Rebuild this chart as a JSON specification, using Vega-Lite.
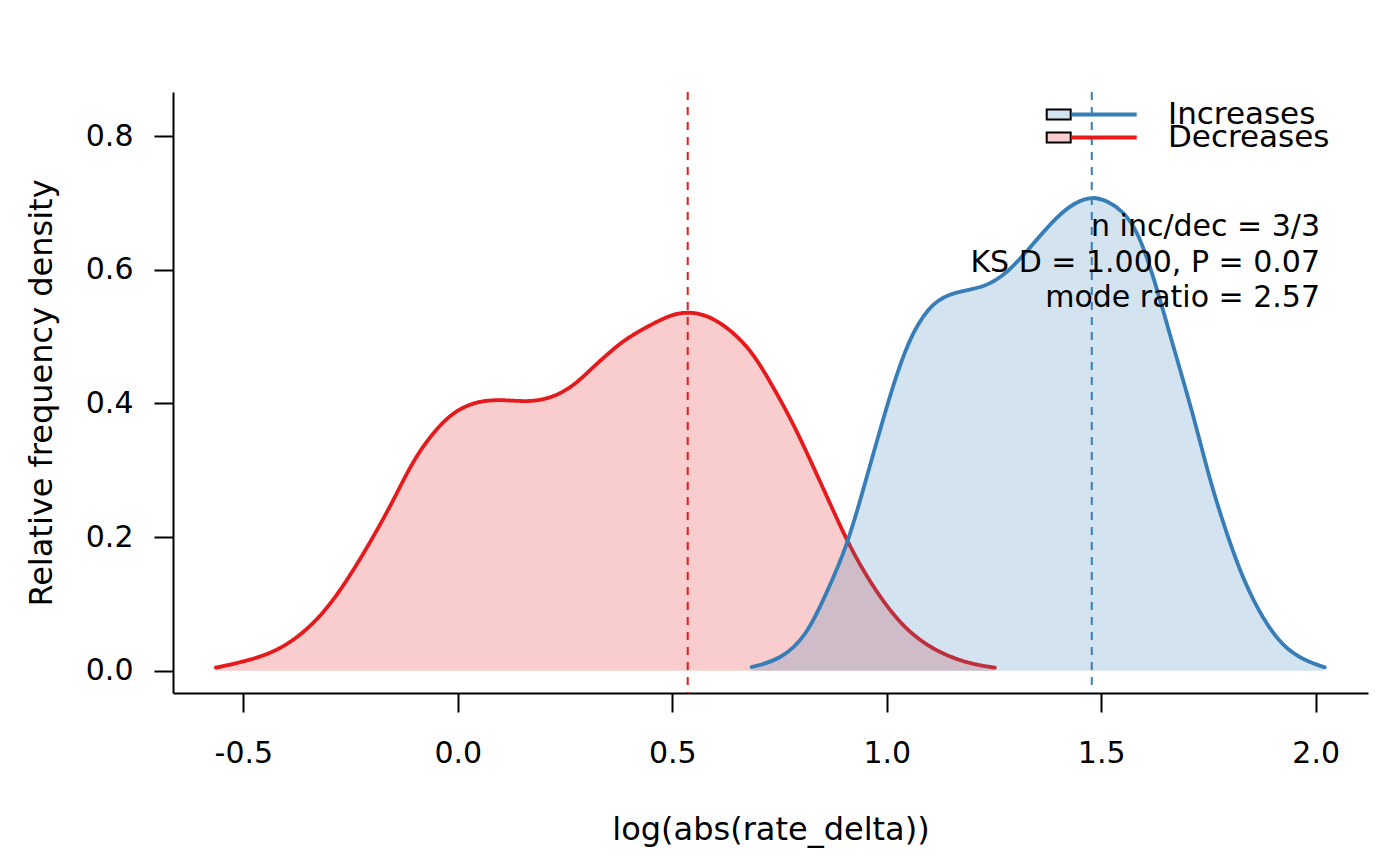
{
  "$schema": "https://vega.github.io/schema/vega-lite/v6.json",
  "width": 1195,
  "height": 601,
  "autosize": {"type": "none"},
  "padding": {"left": 173, "top": 92, "right": 32, "bottom": 173},
  "background": "white",
  "config": {
    "font": "DejaVu Sans",
    "view": {"stroke": null},
    "axis": {
      "grid": false,
      "domainColor": "black",
      "domainWidth": 2,
      "tickColor": "black",
      "tickWidth": 2,
      "tickSize": 19,
      "labelColor": "black",
      "labelFontSize": 30,
      "labelFlush": false,
      "labelOverlap": false,
      "titleFontSize": 32,
      "titleFontWeight": "normal",
      "titleColor": "black"
    },
    "legend": {
      "orient": "none",
      "title": null,
      "padding": 0,
      "offset": 0,
      "rowPadding": 0,
      "labelFontSize": 31,
      "labelColor": "black",
      "labelLimit": 400
    }
  },
  "title": {
    "text": ["n inc/dec = 3/3", "KS D = 1.000, P = 0.07", "mode ratio = 2.57"],
    "orient": "top",
    "anchor": "end",
    "frame": "group",
    "fontSize": 30,
    "fontWeight": "normal",
    "color": "black",
    "lineHeight": 35.5,
    "offset": 0,
    "dx": -48,
    "dy": 222
  },
  "datasets": {
    "density": [
      {"series": "Decreases", "x": -0.564, "y": 0.0045},
      {"series": "Decreases", "x": -0.445, "y": 0.021},
      {"series": "Decreases", "x": -0.368, "y": 0.051},
      {"series": "Decreases", "x": -0.306, "y": 0.091},
      {"series": "Decreases", "x": -0.252, "y": 0.141},
      {"series": "Decreases", "x": -0.197, "y": 0.200},
      {"series": "Decreases", "x": -0.150, "y": 0.255},
      {"series": "Decreases", "x": -0.104, "y": 0.315},
      {"series": "Decreases", "x": -0.057, "y": 0.357},
      {"series": "Decreases", "x": -0.010, "y": 0.388},
      {"series": "Decreases", "x": 0.044, "y": 0.403},
      {"series": "Decreases", "x": 0.098, "y": 0.406},
      {"series": "Decreases", "x": 0.161, "y": 0.402},
      {"series": "Decreases", "x": 0.215, "y": 0.407},
      {"series": "Decreases", "x": 0.269, "y": 0.425},
      {"series": "Decreases", "x": 0.316, "y": 0.455},
      {"series": "Decreases", "x": 0.378, "y": 0.490},
      {"series": "Decreases", "x": 0.409, "y": 0.503},
      {"series": "Decreases", "x": 0.487, "y": 0.531},
      {"series": "Decreases", "x": 0.536, "y": 0.538},
      {"series": "Decreases", "x": 0.588, "y": 0.531},
      {"series": "Decreases", "x": 0.642, "y": 0.507},
      {"series": "Decreases", "x": 0.689, "y": 0.475},
      {"series": "Decreases", "x": 0.735, "y": 0.425},
      {"series": "Decreases", "x": 0.782, "y": 0.370},
      {"series": "Decreases", "x": 0.829, "y": 0.305},
      {"series": "Decreases", "x": 0.875, "y": 0.240},
      {"series": "Decreases", "x": 0.910, "y": 0.191},
      {"series": "Decreases", "x": 0.953, "y": 0.141},
      {"series": "Decreases", "x": 1.000, "y": 0.096},
      {"series": "Decreases", "x": 1.046, "y": 0.061},
      {"series": "Decreases", "x": 1.108, "y": 0.031},
      {"series": "Decreases", "x": 1.186, "y": 0.011},
      {"series": "Decreases", "x": 1.252, "y": 0.0045},
      {"series": "Increases", "x": 0.685, "y": 0.0055},
      {"series": "Increases", "x": 0.751, "y": 0.016},
      {"series": "Increases", "x": 0.813, "y": 0.051},
      {"series": "Increases", "x": 0.863, "y": 0.121},
      {"series": "Increases", "x": 0.907, "y": 0.186},
      {"series": "Increases", "x": 0.945, "y": 0.270},
      {"series": "Increases", "x": 0.984, "y": 0.360},
      {"series": "Increases", "x": 1.023, "y": 0.445},
      {"series": "Increases", "x": 1.062, "y": 0.510},
      {"series": "Increases", "x": 1.108, "y": 0.552},
      {"series": "Increases", "x": 1.157, "y": 0.567},
      {"series": "Increases", "x": 1.228, "y": 0.573},
      {"series": "Increases", "x": 1.282, "y": 0.595},
      {"series": "Increases", "x": 1.335, "y": 0.634},
      {"series": "Increases", "x": 1.398, "y": 0.681},
      {"series": "Increases", "x": 1.440, "y": 0.701},
      {"series": "Increases", "x": 1.478, "y": 0.710},
      {"series": "Increases", "x": 1.515, "y": 0.703},
      {"series": "Increases", "x": 1.550, "y": 0.688},
      {"series": "Increases", "x": 1.585, "y": 0.659},
      {"series": "Increases", "x": 1.625, "y": 0.584},
      {"series": "Increases", "x": 1.668, "y": 0.485},
      {"series": "Increases", "x": 1.714, "y": 0.385},
      {"series": "Increases", "x": 1.753, "y": 0.285},
      {"series": "Increases", "x": 1.792, "y": 0.206},
      {"series": "Increases", "x": 1.831, "y": 0.136},
      {"series": "Increases", "x": 1.878, "y": 0.076},
      {"series": "Increases", "x": 1.924, "y": 0.036},
      {"series": "Increases", "x": 1.971, "y": 0.016},
      {"series": "Increases", "x": 2.021, "y": 0.005}
    ],
    "modes": [
      {"series": "Decreases", "x": 0.536},
      {"series": "Increases", "x": 1.478}
    ]
  },
  "layer": [
    {
      "data": {"name": "density"},
      "transform": [{"filter": "datum.series == 'Decreases'"}],
      "mark": {"type": "area", "interpolate": "basis"},
      "encoding": {
        "x": {
          "field": "x", "type": "quantitative",
          "scale": {"domain": [-0.664, 2.122], "nice": false, "zero": false},
          "axis": {
            "title": "log(abs(rate_delta))",
            "values": [-0.5, 0, 0.5, 1, 1.5, 2],
            "labelExpr": "datum.value < 0 ? '-' + format(-datum.value, '.1f') : format(datum.value, '.1f')",
            "labelPadding": 26,
            "titleX": 597.5,
            "titleY": 136,
            "titleAlign": "center",
            "titleBaseline": "middle"
          }
        },
        "y": {
          "field": "y", "type": "quantitative",
          "scale": {"domain": [-0.0334, 0.866], "nice": false, "zero": false},
          "axis": {
            "title": "Relative frequency density",
            "values": [0, 0.2, 0.4, 0.6, 0.8],
            "format": ".1f",
            "labelPadding": 21,
            "titleX": -132,
            "titleY": 300.5,
            "titleAngle": 270,
            "titleAlign": "center",
            "titleBaseline": "middle"
          }
        },
        "y2": {"datum": 0},
        "fill": {
          "field": "series", "type": "nominal",
          "scale": {"domain": ["Decreases"], "range": ["rgba(228,26,28,0.22)"]},
          "legend": {
            "legendX": 870.2, "legendY": 30,
            "symbolType": "M-1,-0.42H1V0.42H-1Z", "symbolSize": 576,
            "symbolStrokeColor": "black", "symbolStrokeWidth": 2,
            "labelExpr": "''"
          }
        }
      }
    },
    {
      "data": {"name": "density"},
      "transform": [{"filter": "datum.series == 'Decreases'"}],
      "mark": {"type": "line", "interpolate": "basis", "stroke": "#E41A1C", "strokeWidth": 3.8, "strokeCap": "round"},
      "encoding": {
        "x": {"field": "x", "type": "quantitative", "scale": {"domain": [-0.664, 2.122], "nice": false, "zero": false}},
        "y": {"field": "y", "type": "quantitative", "scale": {"domain": [-0.0334, 0.866], "nice": false, "zero": false}},
        "strokeDash": {
          "field": "series", "type": "nominal",
          "scale": {"range": [[1, 0]]},
          "legend": {
            "legendX": 915.7, "legendY": 30,
            "symbolType": "M-5,0H5", "symbolSize": 169,
            "symbolStrokeColor": "#E41A1C", "symbolStrokeWidth": 3.8,
            "labelOffset": 48.3
          }
        }
      }
    },
    {
      "data": {"name": "density"},
      "transform": [{"filter": "datum.series == 'Increases'"}],
      "mark": {"type": "area", "interpolate": "basis"},
      "encoding": {
        "x": {"field": "x", "type": "quantitative", "scale": {"domain": [-0.664, 2.122], "nice": false, "zero": false}},
        "y": {"field": "y", "type": "quantitative", "scale": {"domain": [-0.0334, 0.866], "nice": false, "zero": false}},
        "y2": {"datum": 0},
        "color": {
          "field": "series", "type": "nominal",
          "scale": {"domain": ["Increases"], "range": ["rgba(55,126,184,0.22)"]},
          "legend": {
            "legendX": 870.2, "legendY": 7,
            "symbolType": "M-1,-0.42H1V0.42H-1Z", "symbolSize": 576,
            "symbolStrokeColor": "black", "symbolStrokeWidth": 2,
            "labelExpr": "''"
          }
        }
      }
    },
    {
      "data": {"name": "density"},
      "transform": [{"filter": "datum.series == 'Increases'"}],
      "mark": {"type": "line", "interpolate": "basis", "strokeWidth": 3.8, "strokeCap": "round"},
      "encoding": {
        "x": {"field": "x", "type": "quantitative", "scale": {"domain": [-0.664, 2.122], "nice": false, "zero": false}},
        "y": {"field": "y", "type": "quantitative", "scale": {"domain": [-0.0334, 0.866], "nice": false, "zero": false}},
        "stroke": {
          "field": "series", "type": "nominal",
          "scale": {"range": ["#E41A1C", "#377EB8"]},
          "legend": {
            "legendX": 915.7, "legendY": 7,
            "values": ["Increases"],
            "symbolType": "M-5,0H5", "symbolSize": 169, "symbolStrokeWidth": 3.8,
            "labelOffset": 48.3
          }
        }
      }
    },
    {
      "data": {"name": "modes"},
      "mark": {"type": "rule", "strokeWidth": 2, "strokeDash": [8, 7]},
      "encoding": {
        "x": {"field": "x", "type": "quantitative", "scale": {"domain": [-0.664, 2.122], "nice": false, "zero": false}},
        "stroke": {"field": "series", "type": "nominal", "legend": null}
      }
    }
  ]
}
